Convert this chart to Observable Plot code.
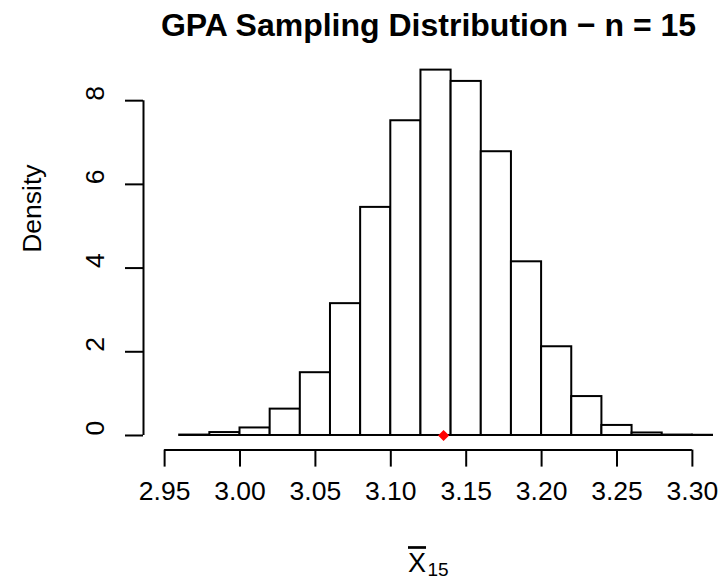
<!DOCTYPE html>
<html><head><meta charset="utf-8">
<script src="https://cdn.jsdelivr.net/npm/d3@7"></script>
<script src="https://cdn.jsdelivr.net/npm/@observablehq/plot@0.6"></script>
<style>html,body{margin:0;padding:0;background:#fff}</style>
</head><body><div id="chart"></div>
<script>
// Histogram bin edges (sample means of GPA, n = 15) and densities
const binEdges = [2.96, 2.98, 3.00, 3.02, 3.04, 3.06, 3.08, 3.10, 3.12, 3.14, 3.16, 3.18, 3.20, 3.22, 3.24, 3.26, 3.28, 3.30, 3.32];
const densities = [0.01, 0.07, 0.18, 0.63, 1.50, 3.15, 5.45, 7.52, 8.73, 8.46, 6.78, 4.15, 2.12, 0.93, 0.24, 0.06, 0.01, 0.005];
const popMean = [3.135];
const xTicks = [2.95, 3.00, 3.05, 3.10, 3.15, 3.20, 3.25, 3.30];
const yTicks = [0, 2, 4, 6, 8];
const titleText = "GPA Sampling Distribution \u2212 n = 15";
const yLabel = "Density";
const xLabelMain = "X";
const xLabelSub = "15";

const bins = densities.map((d, i) => ({x0: binEdges[i], x1: binEdges[i + 1], density: d}));
const xlo = d3.min(xTicks), xhi = d3.max(xTicks), xpad = 0.04 * (xhi - xlo);
const ymax = d3.max(densities), ypad = 0.04 * ymax;
const font = "'Liberation Sans', Arial, Helvetica, sans-serif";

const chart = Plot.plot({
  width: 726, height: 583,
  marginLeft: 143, marginRight: 13, marginTop: 55, marginBottom: 133.4,
  style: {fontFamily: font, fontSize: "26px", color: "black", background: "white"},
  x: {domain: [xlo - xpad, xhi + xpad]},
  y: {domain: [-ypad, ymax + ypad]},
  marks: [
    Plot.rectY(bins, {x1: "x0", x2: "x1", y1: 0, y2: "density", fill: "white", stroke: "black", strokeWidth: 2, clip: true}),
    Plot.dot(popMean, {x: d => d, y: 0, symbol: "diamond2", r: 5, fill: "red", stroke: "none"}),
    Plot.ruleY([-ypad], {x1: xlo, x2: xhi, stroke: "black", strokeWidth: 2}),
    Plot.ruleX([xlo - xpad], {y1: d3.min(yTicks), y2: d3.max(yTicks), stroke: "black", strokeWidth: 2}),
    Plot.axisX({ticks: xTicks, tickSize: 17, tickFormat: () => "", strokeWidth: 2, label: null}),
    Plot.axisY({ticks: yTicks, tickSize: 18, tickFormat: () => "", strokeWidth: 2, label: null}),
    Plot.text(xTicks, {x: d => d, text: d => d.toFixed(2), frameAnchor: "bottom", dy: 41, fontSize: 26.5, lineAnchor: "middle"}),
    Plot.text(yTicks, {y: d => d, text: d => String(d), frameAnchor: "left", dx: -48, rotate: -90, fontSize: 26.5, lineAnchor: "middle"}),
    Plot.text([titleText], {text: d => d, frameAnchor: "top", dy: -30, fontSize: 32, fontWeight: "bold", lineAnchor: "middle"}),
    Plot.text([yLabel], {text: d => d, frameAnchor: "left", dx: -111, rotate: -90, fontSize: 26.5, lineAnchor: "middle"}),
    Plot.text([xLabelMain], {text: d => d, frameAnchor: "bottom", dx: -11.5, dy: 113.4, fontSize: 27, lineAnchor: "middle"}),
    Plot.text([xLabelSub], {text: d => d, frameAnchor: "bottom", dx: 9.5, dy: 120, fontSize: 19, lineAnchor: "middle"})
  ]
});
d3.select(chart).selectAll("text").filter(function() { return this.textContent === xLabelMain; })
  .style("text-decoration", "overline");
document.getElementById("chart").appendChild(chart);
</script>
</body></html>
